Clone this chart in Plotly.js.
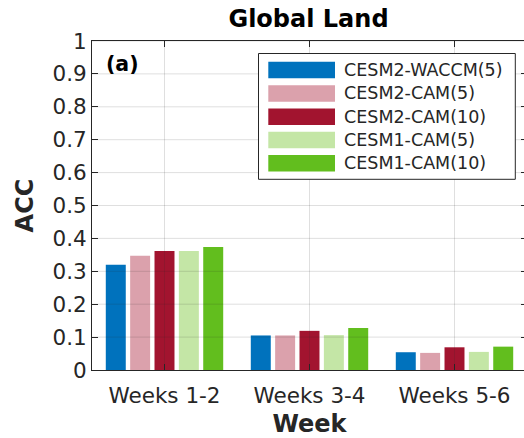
<!DOCTYPE html>
<html>
<head>
<meta charset="utf-8">
<script src="https://cdn.plot.ly/plotly-3.0.1.min.js"></script>
<style>
  html, body { margin: 0; padding: 0; overflow: hidden; background: #fff; }
  #chart { width: 527px; height: 438px; }
</style>
</head>
<body>
<div id="chart"></div>
<script>
// ---- data ----
const categories = ["Weeks 1-2", "Weeks 3-4", "Weeks 5-6"];
const seriesNames = ["CESM2-WACCM(5)", "CESM2-CAM(5)", "CESM2-CAM(10)", "CESM1-CAM(5)", "CESM1-CAM(10)"];
const cesm2Waccm5 = [0.320, 0.105, 0.054];
const cesm2Cam5   = [0.347, 0.105, 0.052];
const cesm2Cam10  = [0.362, 0.119, 0.069];
const cesm1Cam5   = [0.362, 0.106, 0.055];
const cesm1Cam10  = [0.374, 0.128, 0.071];
const yTickVals = [0, 0.1, 0.2, 0.3, 0.4, 0.5, 0.6, 0.7, 0.8, 0.9, 1];
const yTickText = ["0", "0.1", "0.2", "0.3", "0.4", "0.5", "0.6", "0.7", "0.8", "0.9", "1"];

// ---- styling ----
const colors = ["#0072BD", "#DBA1AC", "#A2142F", "#C4E6A6", "#62BE1E"];
const seriesValues = [cesm2Waccm5, cesm2Cam5, cesm2Cam10, cesm1Cam5, cesm1Cam10];
const FONT = "DejaVu Sans, sans-serif";
const TXT = "#262626";

const W = 527, H = 438;
const M = {l: 92, r: 0, t: 41, b: 68};
const PW = W - M.l - M.r, PH = H - M.t - M.b;
const px2x = px => (px - M.l) / PW;
const py2y = py => (H - M.b - py) / PH;

const traces = seriesNames.map((name, i) => ({
  type: "bar",
  name: name,
  x: categories,
  y: seriesValues[i],
  marker: {color: colors[i], line: {width: 0}},
  showlegend: false,
  hoverinfo: "name+y"
}));

const shapes = [];
const annotations = [];

// grid lines drawn above bars (as in the reference)
yTickVals.forEach(v => {
  if (v === 0) return;
  shapes.push({type: "line", xref: "paper", yref: "y", x0: 0, x1: 1, y0: v, y1: v,
    line: {color: "rgba(38,38,38,0.15)", width: 1}, layer: "above"});
});
categories.forEach(c => {
  shapes.push({type: "line", xref: "x", yref: "paper", x0: c, x1: c, y0: 0, y1: 1,
    line: {color: "rgba(38,38,38,0.15)", width: 1}, layer: "above"});
});

// manual legend (wide swatches)
const legL = 258.5, legR = 515.3, legT = 53.5, legB = 179.3;
shapes.push({type: "rect", xref: "paper", yref: "paper",
  x0: px2x(legL), x1: px2x(legR), y0: py2y(legB), y1: py2y(legT),
  fillcolor: "#ffffff", line: {color: "#262626", width: 1}, layer: "above"});
const rowCenters = [70, 93.5, 116.8, 140, 163.3];
seriesNames.forEach((name, i) => {
  const cy = rowCenters[i];
  shapes.push({type: "rect", xref: "paper", yref: "paper",
    x0: px2x(268.3), x1: px2x(335), y0: py2y(cy + 8.3), y1: py2y(cy - 8.3),
    fillcolor: colors[i], line: {width: 0}, layer: "above"});
  annotations.push({xref: "paper", yref: "paper", x: px2x(341.5), y: py2y(cy),
    xanchor: "left", yanchor: "middle", showarrow: false, text: name,
    font: {family: FONT, size: 17.5, color: TXT}});
});

// panel label
annotations.push({xref: "paper", yref: "paper", x: px2x(104), y: py2y(64),
  xanchor: "left", yanchor: "middle", showarrow: false, text: "<b>(a)</b>",
  font: {family: FONT, size: 20.5, color: "#000"}});

const layout = {
  width: W, height: H,
  margin: M,
  paper_bgcolor: "#fff", plot_bgcolor: "#fff",
  barmode: "group", bargap: 0.16, bargroupgap: 0.18,
  title: {text: "<b>Global Land</b>", font: {family: FONT, size: 24, color: "#000"},
    x: px2x(308.5) * PW / W + M.l / W, xanchor: "center",
    y: 1 - 19 / H, yanchor: "middle", xref: "container", yref: "container"},
  xaxis: {
    range: [-0.5, 2.5], type: "category",
    showgrid: false, zeroline: false,
    showline: true, linecolor: "#262626", linewidth: 1, mirror: "ticks",
    ticks: "inside", ticklen: 6, tickcolor: "#262626",
    ticklabelstandoff: 6,
    tickfont: {family: FONT, size: 21.5, color: TXT},
    title: {text: "<b>Week</b>", font: {family: FONT, size: 24, color: TXT}, standoff: 13},
    layer: "above traces", automargin: false
  },
  yaxis: {
    range: [0, 1], tickvals: yTickVals, ticktext: yTickText,
    showgrid: false, zeroline: false,
    showline: true, linecolor: "#262626", linewidth: 1, mirror: "ticks",
    ticks: "inside", ticklen: 6, tickcolor: "#262626",
    tickfont: {family: FONT, size: 21.5, color: TXT},
    title: {text: "<b>ACC</b>", font: {family: FONT, size: 24, color: TXT}, standoff: 12},
    layer: "above traces", automargin: false
  },
  shapes: shapes,
  annotations: annotations,
  showlegend: false
};

Plotly.newPlot("chart", traces, layout, {displayModeBar: false, staticPlot: true});
</script>
</body>
</html>
